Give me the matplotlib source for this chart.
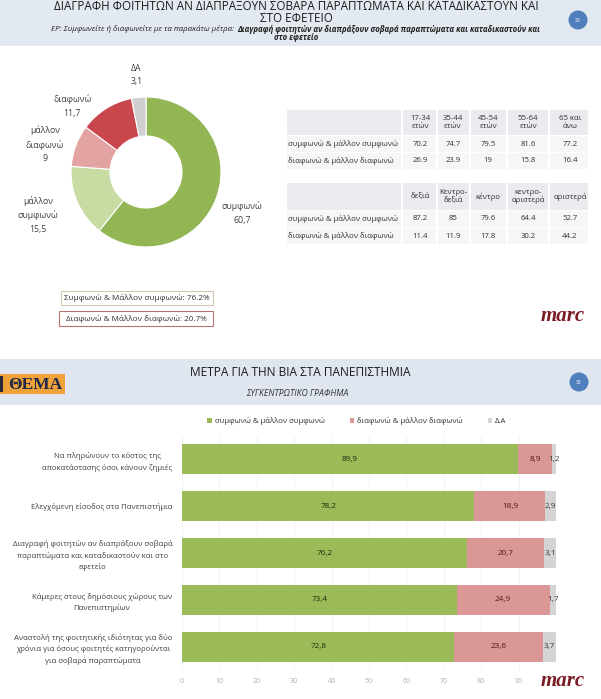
import matplotlib
matplotlib.use('Agg')
import matplotlib.pyplot as plt
from matplotlib.patches import Rectangle, Circle
import numpy as np

plt.rcParams['font.family'] = ['Open Sans', 'DejaVu Sans']

# ---------------- data: slide 29 ----------------
donut_labels = ['συμφωνώ', 'μάλλον\nσυμφωνώ', 'μάλλον\nδιαφωνώ', 'διαφωνώ', 'ΔΑ']
donut_values = [60.7, 15.5, 9.0, 11.7, 3.1]
donut_colors = ['#93b655', '#c7dba2', '#e4a3a3', '#c9474c', '#cfcfcf']

age_groups = ['17-34\nετών', '35-44\nετών', '45-54\nετών', '55-64\nετών', '65 και\nάνω']
age_agree = [70.2, 74.7, 79.5, 81.6, 77.2]
age_disagree = [26.9, 23.9, 19, 15.8, 16.4]

ideology = ['δεξιά', 'Κεντρο-\nδεξιά', 'κέντρο', 'κεντρο-\nαριστερά', 'αριστερά']
ideo_agree = [87.2, 85, 79.6, 64.4, 52.7]
ideo_disagree = [11.4, 11.9, 17.8, 30.2, 44.2]

table_rows = ['συμφωνώ & μάλλον συμφωνώ', 'διαφωνώ & μάλλον διαφωνώ']

# ---------------- data: slide 30 ----------------
measures = [
    'Να πληρώνουν το κόστος της\nαποκατάστασης όσοι κάνουν ζημιές',
    'Ελεγχόμενη είσοδος στα Πανεπιστήμια',
    'Διαγραφή φοιτητών αν διαπράξουν σοβαρά\nπαραπτώματα και καταδικαστούν και στο\nεφετείο',
    'Κάμερες στους δημόσιους χώρους των\nΠανεπιστημίων',
    'Αναστολή της φοιτητικής ιδιότητας για δύο\nχρόνια για όσους φοιτητές κατηγορούνται\nγια σοβαρά παραπτώματα',
]
agree = [89.9, 78.2, 76.2, 73.4, 72.8]
disagree = [8.9, 18.9, 20.7, 24.9, 23.6]
dk = [1.2, 2.9, 3.1, 1.7, 3.7]
series_names = ['συμφωνώ & μάλλον συμφωνώ', 'διαφωνώ & μάλλον διαφωνώ', 'Δ.Α']
series_colors = ['#9bbb59', '#db9796', '#d4d4d4']
x_ticks = [0, 10, 20, 30, 40, 50, 60, 70, 80, 90]

W, H = 601, 699
fig = plt.figure(figsize=(W / 100, H / 100), dpi=100)
fig.patch.set_facecolor('white')


def fr(x, y, w, h):
    """pixel box (top-left origin) -> figure fraction rect"""
    return [x / W, 1 - (y + h) / H, w / W, h / H]


def gfmt(v):
    return f'{v:g}'.replace('.', ',')


# canvas for decoration (pixel coordinates)
cv = fig.add_axes([0, 0, 1, 1], zorder=0)
cv.set_xlim(0, W)
cv.set_ylim(H, 0)
cv.axis('off')

TXT = '#333333'

# ---------- slide 29 header ----------
cv.add_patch(Rectangle((0, 0), W, 46, color='#e3e9f0', lw=0))
cv.text(296, 7, 'ΔΙΑΓΡΑΦΗ ΦΟΙΤΗΤΩΝ ΑΝ ΔΙΑΠΡΑΞΟΥΝ ΣΟΒΑΡΑ ΠΑΡΑΠΤΩΜΑΤΑ ΚΑΙ ΚΑΤΑΔΙΚΑΣΤΟΥΝ ΚΑΙ',
        ha='center', va='center', fontsize=8.4, color='#1a1a1a')
cv.text(296, 18.5, 'ΣΤΟ ΕΦΕΤΕΙΟ', ha='center', va='center', fontsize=8.4, color='#1a1a1a')
cv.text(234, 29.3, 'ΕΡ: Συμφωνείτε ή διαφωνείτε με τα παρακάτω μέτρα:', ha='right', va='center',
        fontsize=5.7, style='italic', color='#222222')
cv.text(237, 29.3, 'Διαγραφή φοιτητών αν διαπράξουν σοβαρά παραπτώματα και καταδικαστούν και',
        ha='left', va='center', fontsize=5.6, style='italic', weight='bold', color='#222222')
cv.text(296, 37, 'στο εφετείο', ha='center', va='center', fontsize=5.6, style='italic',
        weight='bold', color='#222222')
cv.add_patch(Circle((578, 20), 9.5, color='#4f7fbd', lw=0))
cv.text(578, 20, '29', ha='center', va='center', fontsize=3.5, color='white')

# ---------- donut ----------
label_dist = [1.39, 1.55, 1.40, 1.32, 1.30]   # label placement (layout only)
label_dang = [-4, -2, 5, 16, 0]               # angular nudge in degrees (layout only)
dax = fig.add_axes(fr(71, 97, 150, 150), zorder=2)
dax.set_facecolor('none')
wedges, texts = dax.pie(donut_values, colors=donut_colors, startangle=90, counterclock=False,
                        labels=[f'{l}\n{gfmt(v)}' for l, v in zip(donut_labels, donut_values)],
                        labeldistance=1.4, radius=1,
                        wedgeprops=dict(width=0.52, edgecolor='white', linewidth=0.8),
                        textprops=dict(fontsize=6.3, color='#404040'))
for w, t, d, da in zip(wedges, texts, label_dist, label_dang):
    ang = np.deg2rad((w.theta1 + w.theta2) / 2 + da)
    t.set_position((d * np.cos(ang), d * np.sin(ang)))
    t.set_ha('center')
    t.set_va('center')
    t.set_multialignment('center')
    t.set_linespacing(1.6)
dax.set_xlim(-1, 1)
dax.set_ylim(-1, 1)
dax.set_aspect('equal')

agree_total = donut_values[0] + donut_values[1]
disagree_total = donut_values[2] + donut_values[3]
cv.add_patch(Rectangle((61, 291), 152, 14, facecolor='white', edgecolor='#d3c7b5', lw=0.8))
cv.text(137, 298.3, f'Συμφωνώ & Μάλλον συμφωνώ: {agree_total:.1f}%', ha='center', va='center',
        fontsize=5.9, color='#333333')
cv.add_patch(Rectangle((59, 311), 154, 15, facecolor='white', edgecolor='#b97373', lw=0.8))
cv.text(136, 318.8, f'Διαφωνώ & Μάλλον διαφωνώ: {disagree_total:.1f}%', ha='center', va='center',
        fontsize=5.9, color='#333333')

# ---------- tables ----------
col_centers = [420, 453, 488, 528, 570]
col_bounds = [402, 437, 470, 507, 549]


def draw_table(top, hdr_h, headers, vals_rows):
    cv.add_patch(Rectangle((287, top), 301, hdr_h, color='#eaeaef', lw=0))
    for c, h in zip(col_centers, headers):
        cv.text(c, top + hdr_h / 2, h, ha='center', va='center', fontsize=5.6, color=TXT,
                linespacing=1.05)
    for r, (lab, vals) in enumerate(zip(table_rows, vals_rows)):
        y = top + hdr_h + 9 + r * 17
        cv.add_patch(Rectangle((287, y - 8), 301, 16, color='#f6f6f8', lw=0))
        cv.text(288, y, lab, ha='left', va='center', fontsize=5.6, color=TXT)
        for c, v in zip(col_centers, vals):
            cv.text(c, y, f'{v:g}', ha='center', va='center', fontsize=5.6, color=TXT)
    for b in col_bounds:
        cv.plot([b, b], [top, top + hdr_h + 34], color='white', lw=1.5)


draw_table(110, 25, age_groups, [age_agree, age_disagree])
draw_table(183, 27, ideology, [ideo_agree, ideo_disagree])

cv.text(563, 316, 'marc', ha='center', va='center', fontsize=15, family='Liberation Serif',
        style='italic', weight='bold', color='#7b1c24')

# ---------- slide 30 header ----------
cv.add_patch(Rectangle((0, 359), W, 46, color='#dfe6ef', lw=0))
cv.add_patch(Rectangle((0, 374), 65, 20, color='#f0a23a', lw=0))
cv.add_patch(Rectangle((0, 376), 3, 16, color='#2a2a3a', lw=0))
cv.text(35, 385, 'ΘΕΜΑ', ha='center', va='center', fontsize=12.5, family='Liberation Serif',
        weight='bold', color='#1d2747')
cv.text(300, 373, 'ΜΕΤΡΑ ΓΙΑ ΤΗΝ ΒΙΑ ΣΤΑ ΠΑΝΕΠΙΣΤΗΜΙΑ', ha='center', va='center',
        fontsize=8.6, color='#1a1a1a')
cv.text(297, 394, 'ΣΥΓΚΕΝΤΡΩΤΙΚΟ ΓΡΑΦΗΜΑ', ha='center', va='center', fontsize=6.2,
        style='italic', color='#333333')
cv.add_patch(Circle((579, 382), 9.5, color='#4f7fbd', lw=0))
cv.text(579, 382, '30', ha='center', va='center', fontsize=3.5, color='white')

# ---------- stacked bar chart ----------
bax = fig.add_axes(fr(182, 436, 374, 234), zorder=2)
bax.set_facecolor('none')
y = np.arange(len(measures))
left2 = np.array(agree)
left3 = left2 + np.array(disagree)
c1 = bax.barh(y, agree, height=0.64, color=series_colors[0], label=series_names[0])
c2 = bax.barh(y, disagree, left=left2, height=0.64, color=series_colors[1], label=series_names[1])
c3 = bax.barh(y, dk, left=left3, height=0.64, color=series_colors[2], label=series_names[2])
bax.bar_label(c1, labels=[gfmt(v) for v in agree], label_type='center', fontsize=5.9,
              color='#1e2a0c')
bax.bar_label(c2, labels=[gfmt(v) for v in disagree], label_type='center', fontsize=5.9,
              color='#4a1616')
bax.bar_label(c3, labels=[gfmt(v) for v in dk], label_type='center', fontsize=5.9,
              color='#3a3a3a')
bax.set_xlim(0, 100)
bax.set_ylim(len(measures) - 0.5, -0.5)
bax.set_xticks(x_ticks)
bax.set_xticklabels([str(t) for t in x_ticks])
bax.set_yticks(y)
bax.set_yticklabels(measures, fontsize=5.6, color='#404040', multialignment='center',
                    linespacing=1.55)
bax.tick_params(axis='x', length=0, pad=6, labelsize=5, labelcolor='#b0b0b0')
bax.tick_params(axis='y', length=0, pad=7)
bax.set_axisbelow(True)
bax.grid(axis='x', color='#f0f0f0', lw=0.6)
for s in bax.spines.values():
    s.set_visible(False)

bax.legend(loc='center', bbox_to_anchor=((357 - 182) / 374, (436 - 421) / 234 + 1),
           ncol=3, frameon=False, fontsize=5.6, handlelength=0.55, handleheight=0.55,
           handletextpad=0.4, columnspacing=3.2, labelcolor='#333333')

cv.text(563, 681, 'marc', ha='center', va='center', fontsize=15, family='Liberation Serif',
        style='italic', weight='bold', color='#7b1c24', zorder=5)

fig.savefig('out.png', dpi=100, facecolor='white')
